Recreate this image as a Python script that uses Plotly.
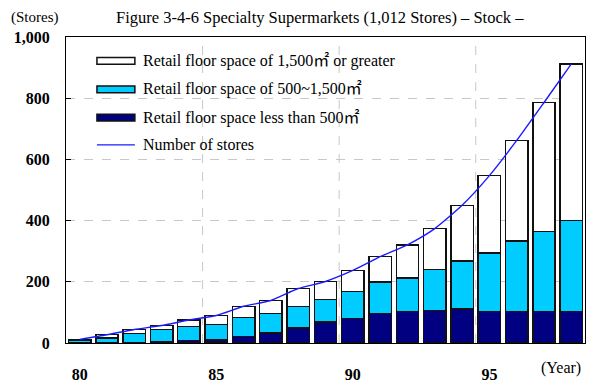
import plotly.graph_objects as go

# Specialty supermarkets, store counts by retail floor space (stock)
years = list(range(1980, 1999))
under_500 = [0, 0, 0, 4, 8, 10, 22, 32, 49, 68, 80, 97, 103, 107, 111, 103, 103, 103, 103]
from_500_to_1500 = [9, 17, 31, 40, 46, 50, 61, 65, 70, 74, 88, 103, 110, 133, 157, 191, 230, 262, 298]
over_1500 = [3, 10, 13, 13, 21, 30, 37, 42, 59, 59, 69, 82, 108, 134, 182, 253, 329, 421, 511]
stores = [12, 27, 44, 57, 75, 90, 120, 139, 178, 201, 237, 282, 321, 374, 450, 547, 662, 786, 912]

tick_years = [1980, 1985, 1990, 1995]
tick_text = ["80", "85", "90", "95"]
y_ticks = [0, 200, 400, 600, 800, 1000]
y_tick_text = ["0", "200", "400", "600", "800", "1,000"]

SERIF = "Liberation Serif, Noto Sans CJK JP, serif"
W, H = 593, 390
ML, MR, MT, MB = 66, 7, 37, 38
PW, PH = W - ML - MR, H - MT - MB

NAVY = "#000080"
CYAN = "#00CCFF"
BLUE = "#1a1aff"


def px(x):
    return (x - ML) / PW


def py(y):
    return 1 - (y - MT) / PH


fig = go.Figure()
bar_line = dict(color="#111111", width=1.5)
fig.add_trace(go.Bar(x=years, y=under_500, marker=dict(color=NAVY, line=bar_line),
                     name="Retail floor space less than 500㎡"))
fig.add_trace(go.Bar(x=years, y=from_500_to_1500, marker=dict(color=CYAN, line=bar_line),
                     name="Retail floor space of 500~1,500㎡"))
fig.add_trace(go.Bar(x=years, y=over_1500, marker=dict(color="white", line=bar_line),
                     name="Retail floor space of 1,500㎡ or greater"))
fig.add_trace(go.Scatter(x=years, y=stores, mode="lines",
                         line=dict(color=BLUE, width=1.4, shape="spline", smoothing=0.6),
                         name="Number of stores"))

shapes = []
# dashed vertical separators between 5-year groups
for xv in [1984.5, 1989.5, 1994.5]:
    shapes.append(dict(type="line", xref="x", yref="paper", x0=xv, x1=xv, y0=0, y1=1,
                       line=dict(color="#c8c8c8", width=1, dash="dash"), layer="below"))

# legend block
legend_rows = [
    ("Retail floor space of 1,500㎡ or greater", "white", "box"),
    ("Retail floor space of 500~1,500㎡", CYAN, "box"),
    ("Retail floor space less than 500㎡", NAVY, "box"),
    ("Number of stores", BLUE, "line"),
]
row_y = [61.5, 91, 120, 148]
annotations = []
for (label, color, kind), yc in zip(legend_rows, row_y):
    if kind == "box":
        shapes.append(dict(type="rect", xref="paper", yref="paper",
                           x0=px(97), x1=px(135), y0=py(yc + 3.5), y1=py(yc - 3.5),
                           fillcolor=color, line=dict(color="#111111", width=1.5)))
    else:
        shapes.append(dict(type="line", xref="paper", yref="paper",
                           x0=px(97), x1=px(135), y0=py(yc), y1=py(yc),
                           line=dict(color=color, width=1.4)))
    annotations.append(dict(text=label, xref="paper", yref="paper", x=px(141), y=py(yc),
                            xanchor="left", yanchor="middle", showarrow=False,
                            font=dict(family=SERIF, size=16, color="black")))

annotations += [
    dict(text="Figure 3-4-6 Specialty Supermarkets (1,012 Stores) – Stock –",
         xref="paper", yref="paper", x=px(320), y=py(17), xanchor="center", yanchor="middle",
         showarrow=False, font=dict(family=SERIF, size=16.5, color="black")),
    dict(text="(Stores)", xref="paper", yref="paper", x=px(35), y=py(17),
         xanchor="center", yanchor="middle", showarrow=False,
         font=dict(family=SERIF, size=15, color="black")),
    dict(text="(Year)", xref="paper", yref="paper", x=px(562), y=py(378),
         xanchor="center", yanchor="middle", showarrow=False,
         font=dict(family=SERIF, size=16, color="black")),
]

fig.update_layout(
    width=W, height=H,
    margin=dict(l=ML, r=MR, t=MT, b=MB),
    paper_bgcolor="white", plot_bgcolor="white",
    barmode="stack", bargap=0.18,
    showlegend=False,
    shapes=shapes, annotations=annotations,
    font=dict(family=SERIF, color="black"),
)
fig.update_xaxes(
    range=[1979.5, 1998.5], tickvals=tick_years, ticktext=tick_text,
    ticks="", ticklabelstandoff=17, showgrid=False,
    showline=True, linecolor="black", linewidth=1.2, mirror=True,
    tickfont=dict(family=SERIF, size=16, color="black", weight="bold"),
)
fig.update_yaxes(
    range=[0, 1000], tickvals=y_ticks, ticktext=y_tick_text,
    ticks="inside", ticklen=5, tickcolor="black", ticklabelstandoff=12,
    showgrid=True, gridcolor="#c8c8c8", griddash="dash", gridwidth=1,
    showline=True, linecolor="black", linewidth=1.2, mirror=True, zeroline=False,
    tickfont=dict(family=SERIF, size=16, color="black", weight="bold"),
)

fig.write_html("out.html")
